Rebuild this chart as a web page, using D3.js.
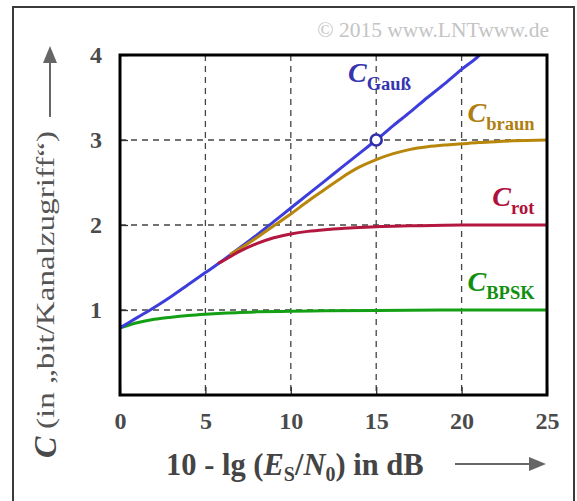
<!DOCTYPE html>
<html><head><meta charset="utf-8">
<script src="https://cdn.jsdelivr.net/npm/d3@7"></script>
<style>html,body{margin:0;padding:0;background:#fff;} svg{display:block}</style>
</head><body><svg id="chart" width="577" height="501"></svg>
<script>
// ---- data ----
const xTicks = [0, 5, 10, 15, 20, 25];
const yTicks = [1, 2, 3, 4];
const gridX = [5, 10, 15, 20];
const gridY = [1, 2, 3];

const gaussDb = [0,1,2,3,4,5,6,7,8,9,10,11,12,13,14,15,16,17,18,19,20,21,21.1];
const gaussC  = [0.79,0.91,1.03,1.16,1.30,1.44,1.58,1.73,1.88,2.04,2.20,2.36,2.52,2.68,2.84,3.00,3.17,3.33,3.50,3.66,3.83,3.99,4.01];

const rotDb = [5.8,6,7,8,9,10,11,12,13,14,15,17,20,25];
const rotC  = [1.555,1.575,1.69,1.78,1.85,1.895,1.925,1.945,1.96,1.97,1.98,1.99,2.0,2.0];

const braunDb = [6.5,7,8,9,10,11,12,13,14,15,16,17,18,19,20,21,22,23,25];
const braunC  = [1.66,1.72,1.85,1.99,2.13,2.28,2.42,2.56,2.68,2.77,2.84,2.89,2.92,2.94,2.955,2.97,2.98,2.99,3.0];

const bpskDb = [0,1,2,3,4,5,6,7,8,10,12,15,20,25];
const bpskC  = [0.79,0.85,0.89,0.915,0.935,0.95,0.962,0.972,0.978,0.985,0.99,0.995,1.0,1.0];

const markerDb = [15];
const markerC = [3];

const seriesNames = ["BPSK", "Gauß", "braun", "rot"];
const seriesColors = ["#14a014", "#3d3ddc", "#b8860b", "#b3173f"];
const labelColors = ["#109010", "#3535b0", "#b07e10", "#b0103c"];

// ---- layout ----
const svg = d3.select("#chart");
const L = 120, R = 547, T = 55, B = 395;
const x = d3.scaleLinear().domain([0, 25]).range([L, R]);
const y = d3.scaleLinear().domain([0, 4]).range([B, T]);
const serif = "'Liberation Serif','Times New Roman',serif";

// outer frame
svg.append("rect").attr("x", 13).attr("y", 7).attr("width", 561).attr("height", 510)
  .attr("fill", "none").attr("stroke", "#3a3a3a").attr("stroke-width", 2);

// copyright
svg.append("text").attr("x", 549).attr("y", 37).attr("text-anchor", "end")
  .attr("font-family", serif).attr("font-size", 21.5).attr("fill", "#c4c4c4")
  .text("© 2015 www.LNTwww.de");

// grid
const grid = svg.append("g").attr("stroke", "#444").attr("stroke-width", 1.3).attr("stroke-dasharray", "6,5");
grid.selectAll(".gx").data(gridX).join("line")
  .attr("x1", d => x(d)).attr("x2", d => x(d)).attr("y1", T).attr("y2", B);
grid.selectAll(".gy").data(gridY).join("line")
  .attr("y1", d => y(d)).attr("y2", d => y(d)).attr("x1", L).attr("x2", R);

// axes (ticks inward)
const xAxis = svg.append("g").attr("transform", `translate(0,${B})`)
  .call(d3.axisBottom(x).tickValues(xTicks).tickSize(-8).tickPadding(17).tickFormat(d3.format("d")));
const yAxis = svg.append("g").attr("transform", `translate(${L},0)`)
  .call(d3.axisLeft(y).tickValues(yTicks).tickSize(-8).tickPadding(18).tickFormat(d3.format("d")));
[xAxis, yAxis].forEach(a => {
  a.select(".domain").remove();
  a.selectAll(".tick line").attr("stroke", "#333").attr("stroke-width", 1.3);
  a.selectAll(".tick text").attr("font-family", serif).attr("font-size", 24)
    .attr("font-weight", "bold").attr("fill", "#4a4a4a");
});

// clip
svg.append("clipPath").attr("id", "clip").append("rect")
  .attr("x", L).attr("y", T).attr("width", R - L).attr("height", B - T);

const line = d3.line().x(d => x(d[0])).y(d => y(d[1])).curve(d3.curveMonotoneX);
const zip = (a, b) => a.map((v, i) => [v, b[i]]);
const seriesData = [zip(bpskDb, bpskC), zip(gaussDb, gaussC), zip(braunDb, braunC), zip(rotDb, rotC)];

const curves = svg.append("g").attr("clip-path", "url(#clip)");
curves.selectAll("path").data(seriesData).join("path")
  .attr("d", line).attr("fill", "none")
  .attr("stroke", (d, i) => seriesColors[i]).attr("stroke-width", 3)
  .attr("stroke-linecap", "round");

// marker
svg.selectAll(".mk").data(zip(markerDb, markerC)).join("circle")
  .attr("cx", d => x(d[0])).attr("cy", d => y(d[1])).attr("r", 5.5)
  .attr("fill", "#fff").attr("stroke", "#2f2fa8").attr("stroke-width", 2.6);

// plot box
svg.append("rect").attr("x", L).attr("y", T).attr("width", R - L).attr("height", B - T)
  .attr("fill", "none").attr("stroke", "#000").attr("stroke-width", 3);

// curve labels
const labelPos = [[20.35, 1.22], [13.35, 3.68], [20.35, 3.21], [21.8, 2.22]];
seriesNames.forEach((name, i) => {
  const t = svg.append("text").attr("x", x(labelPos[i][0])).attr("y", y(labelPos[i][1]))
    .attr("font-family", serif).attr("fill", labelColors[i]).attr("font-weight", "bold");
  t.append("tspan").attr("font-style", "italic").attr("font-size", 28).text("C");
  t.append("tspan").attr("font-size", 18.5).attr("dy", 8).text(name);
});

// y-axis title
svg.append("text").attr("transform", "translate(56,458) rotate(-90)")
  .attr("font-family", serif).attr("font-size", 32).attr("font-weight", "bold")
  .attr("font-style", "italic").attr("fill", "#4a4a4a").text("C");
svg.append("text").attr("transform", "translate(53.5,429) rotate(-90)")
  .attr("font-family", serif).attr("font-size", 25).attr("fill", "#555")
  .attr("textLength", 298).attr("lengthAdjust", "spacingAndGlyphs")
  .text("(in „bit/Kanalzugriff“)");

// x-axis title
const xt = svg.append("text").attr("x", 166).attr("y", 475)
  .attr("font-family", serif).attr("font-size", 30.5).attr("font-weight", "bold").attr("fill", "#444");
xt.append("tspan").text("10 - lg (");
xt.append("tspan").attr("font-style", "italic").text("E");
xt.append("tspan").attr("font-size", 20).attr("dy", 6).text("S");
xt.append("tspan").attr("dy", -6).text("/");
xt.append("tspan").attr("font-style", "italic").text("N");
xt.append("tspan").attr("font-size", 20).attr("dy", 6).text("0");
xt.append("tspan").attr("dy", -6).text(") in dB");

// arrows
const arrowCol = "#666";
svg.append("line").attr("x1", 50).attr("x2", 50).attr("y1", 117).attr("y2", 58)
  .attr("stroke", arrowCol).attr("stroke-width", 2);
svg.append("path").attr("d", "M50,46 L43,63 L57,63 Z").attr("fill", arrowCol);
svg.append("line").attr("x1", 455).attr("x2", 533).attr("y1", 464).attr("y2", 464)
  .attr("stroke", arrowCol).attr("stroke-width", 2);
svg.append("path").attr("d", "M546,464 L529,457 L529,471 Z").attr("fill", arrowCol);
</script>
</body></html>
